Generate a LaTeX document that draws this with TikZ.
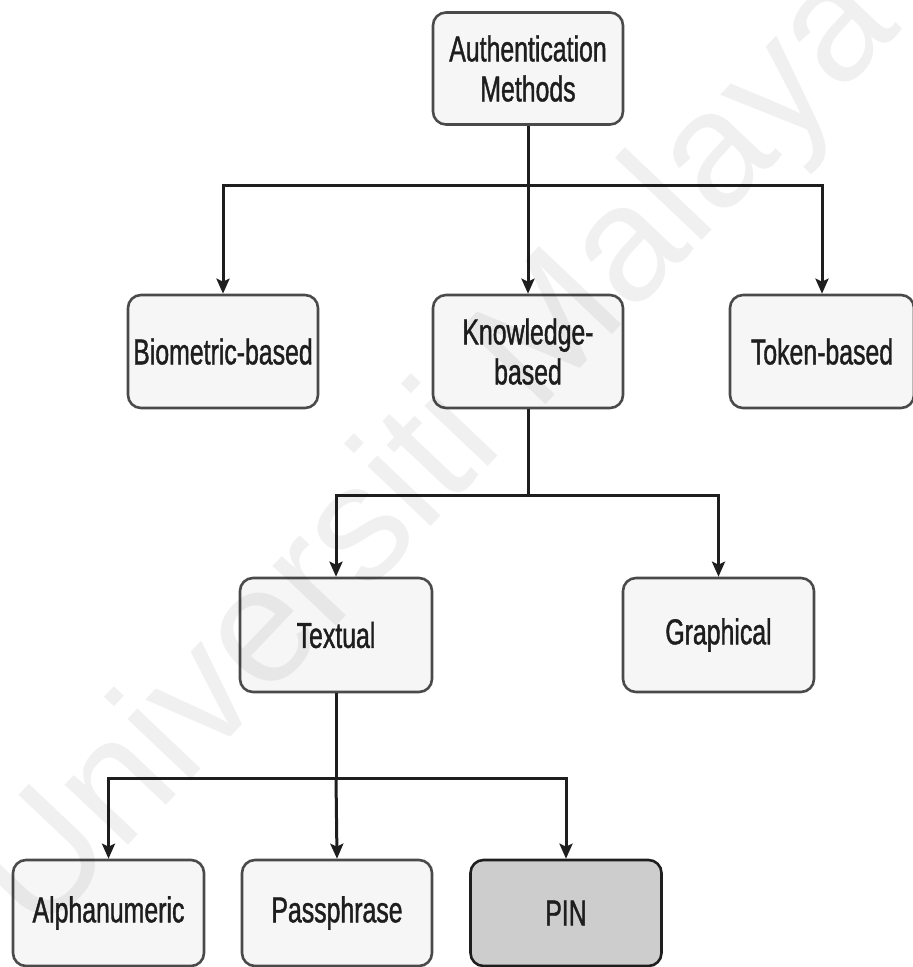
\documentclass[tikz,border=0pt]{standalone}
\usepackage{fontspec}
\setmainfont{Liberation Sans}
\newfontfamily\boxfont[FakeStretch=0.69,FakeBold=1.1]{Liberation Sans}
\newfontfamily\markfont{Liberation Sans}
\usetikzlibrary{arrows.meta}
\definecolor{boxfill}{HTML}{F6F6F6}
\definecolor{boxline}{HTML}{4A4A4A}
\definecolor{pinfill}{HTML}{CDCDCD}
\definecolor{inkcol}{HTML}{1E1E1E}
\tikzset{
  x=1pt, y=-1pt,
  item/.style={draw=boxline, line width=2.6pt, rounded corners=13pt, fill=boxfill,
    minimum width=190pt, minimum height=112pt, inner sep=0pt,
    align=center, text=inkcol,
    font=\boxfont\fontsize{36pt}{40pt}\selectfont},
  link/.style={draw=inkcol, line width=3pt},
  linkarrow/.style={link, -{Stealth[length=15pt,width=13pt,inset=3pt]}},
}
\begin{document}
\begin{tikzpicture}
\useasboundingbox (0,0) rectangle (913,967);

% level 1
\node[item] (auth) at (528,68.5) {Authentication\\Methods};
% level 2
\node[item, minimum height=113pt] (bio) at (223,351.5) {Biometric-based};
\node[item, minimum height=113pt] (know) at (528,351.5) {Knowledge-\\based};
\node[item, minimum height=113pt, minimum width=184pt] (token) at (822,351.5) {Token-based};
% level 3
\node[item, minimum height=114pt, minimum width=192pt] (text) at (336,635) {Textual};
\node[item, minimum height=114pt, minimum width=191pt] (graph) at (718.5,635) {Graphical};
% level 4
\node[item, minimum height=106pt, minimum width=191pt] (alpha) at (108.5,913) {Alphanumeric};
\node[item, minimum height=106pt, minimum width=190pt] (pass) at (337,913) {Passphrase};
\node[item, minimum height=106pt, minimum width=191pt, fill=pinfill, draw=inkcol] (pin) at (566,913) {PIN};

% branch points
\coordinate (j1) at (auth.south |- 0,185);
\coordinate (j2) at (know.south |- 0,495);
\coordinate (j3) at (text.south |- 0,778);

% connectors
\draw[link] (auth.south) -- (j1);
\draw[linkarrow] (j1) -| (bio.north);
\draw[linkarrow] (j1) -- (know.north);
\draw[linkarrow] (j1) -| (token.north);

\draw[link] (know.south) -- (j2);
\draw[linkarrow] (j2) -| (text.north);
\draw[linkarrow] (j2) -| (graph.north);

\draw[link] (text.south) -- (j3);
\draw[linkarrow] (j3) -| (alpha.north);
\draw[linkarrow] (j3) -- (pass.north);
\draw[linkarrow] (j3) -| (pin.north);

% faint watermark laid over the whole sheet
\node[text=black, text opacity=0.06, font=\markfont\fontsize{165pt}{165pt}\selectfont, rotate=46.5]
  (mark) at (440,455) {Universiti Malaya};
\end{tikzpicture}
\end{document}
